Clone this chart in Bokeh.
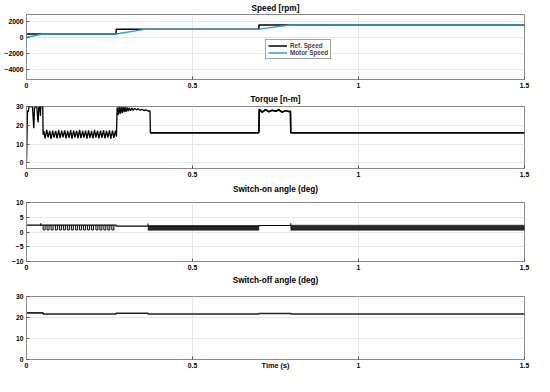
import json
from bokeh.plotting import figure
from bokeh.layouts import column
from bokeh.models import (FixedTicker, Range1d, NumeralTickFormatter, LinearAxis,
                          CustomJSTickFormatter)
from bokeh.embed import file_html
from bokeh.resources import INLINE

FONT = "Liberation Sans"

# ---------------- data ----------------
x_ticks = [0, 0.5, 1, 1.5]
title_pos = [0.75]

# Speed [rpm]
spd_ref_t = [0, 0.27, 0.27, 0.70, 0.70, 1.5]
spd_ref_v = [400, 400, 1000, 1000, 1500, 1500]
spd_mot_t = [0, 0.05, 0.27, 0.36, 0.70, 0.795, 1.5]
spd_mot_v = [0, 400, 400, 1000, 1000, 1500, 1500]
spd_yticks = [-4000, -2000, 0, 2000]

# Torque [n-m]
tq_start_t = [0, 0.003, 0.005, 0.008, 0.012, 0.018, 0.020, 0.022, 0.024, 0.028, 0.031,
              0.034, 0.035, 0.037, 0.040, 0.042, 0.043, 0.046, 0.049, 0.050]
tq_start_v = [0, 28, 27, 30, 30, 30, 24, 18.5, 29, 30, 30, 23, 21.5, 29.5, 30, 25, 30, 30, 30, 15]
tq_rip1_t = [0.052, 0.056, 0.061, 0.065, 0.070, 0.074, 0.079, 0.083, 0.088, 0.092,
             0.097, 0.101, 0.106, 0.110, 0.115, 0.119, 0.124, 0.128, 0.133, 0.137,
             0.142, 0.146, 0.151, 0.155, 0.160, 0.164, 0.169, 0.173, 0.178, 0.182,
             0.187, 0.191, 0.196, 0.200, 0.205, 0.209, 0.214, 0.218, 0.223, 0.227,
             0.232, 0.236, 0.241, 0.245, 0.250, 0.254, 0.259, 0.263, 0.268, 0.271]
tq_rip1_v = [17, 13, 17.5, 13.5, 17, 12.8, 17.2, 13.4, 17, 13, 17.5, 13.2, 17.1, 13.6,
             17.3, 13, 17, 13.3, 17.4, 12.9, 17.1, 13.5, 17, 13.1, 17.6, 13.2, 17, 13.4,
             17.2, 12.9, 17.3, 13.3, 17, 13.1, 17.5, 13.4, 17.1, 13, 17.2, 13.3, 17.4,
             13.1, 17, 13.5, 17.3, 12.9, 17.1, 13.3, 17.2, 14]
tq_rip2_t = [0.273, 0.276, 0.279, 0.282, 0.285, 0.288, 0.291, 0.294, 0.297, 0.300,
             0.303, 0.306, 0.309, 0.313, 0.317, 0.321, 0.326, 0.331, 0.336, 0.342,
             0.348, 0.354, 0.360, 0.366, 0.372]
tq_rip2_v = [29.5, 25.5, 30, 26, 29.8, 26.5, 29.8, 27, 29.6, 27.2, 29.5, 27.5, 29.3,
             27.8, 29.2, 28, 29, 28.2, 28.8, 28, 28.5, 27.8, 28.2, 27.6, 27.6]
tq_rest_t = [0.373, 0.70, 0.701, 0.71, 0.72, 0.73, 0.74, 0.75, 0.76, 0.77, 0.78,
             0.79, 0.795, 0.796, 1.5]
tq_rest_v = [16, 16, 28.5, 27, 28.3, 27.2, 28, 27.5, 28.2, 27, 27.8, 27.3, 27.5, 16, 16]
tq_yticks = [0, 10, 20, 30]

# Switch-on angle (deg)
son_t = [0, 0.27, 0.27, 0.70, 0.70, 0.795]
son_v = [2.3, 2.3, 2.0, 2.0, 2.2, 2.2]
son_spike_t = [0.043, 0.366, 0.796]
son_spike_v = [3.0, 2.9, 3.0]
son_comb_t = [0.050, 0.062, 0.074, 0.087, 0.099, 0.111, 0.123, 0.135, 0.148,
              0.160, 0.172, 0.184, 0.196, 0.209, 0.221, 0.233, 0.245, 0.257]
son_comb_lo = 0.7
son_band_t0 = [0.366, 0.796]
son_band_t1 = [0.70, 1.5]
son_band_lo = [0.6, 0.6]
son_band_hi = [2.1, 2.3]
son_yticks = [-10, -5, 0, 5, 10]

# Switch-off angle (deg)
soff_t = [0, 0.05, 0.05, 0.27, 0.27, 0.366, 0.366, 0.70, 0.70, 0.796, 0.796, 1.5]
soff_v = [22.2, 22.2, 21.7, 21.7, 22.0, 22.0, 21.7, 21.7, 21.9, 21.9, 21.7, 21.7]
soff_yticks = [0, 10, 20, 30]


# ---------------- helpers ----------------
def panel(title, yr, yticks, h, l, r, t, b, standoff):
    p = figure(width=534, height=h, x_range=Range1d(0, 1.5), y_range=Range1d(*yr),
               output_backend="svg", toolbar_location=None,
               min_border_left=l, min_border_right=r, min_border_top=t, min_border_bottom=b)
    p.background_fill_color = "white"
    p.border_fill_color = "white"
    p.outline_line_color = "#8a8a8a"
    for ax in (p.xaxis[0], p.yaxis[0]):
        ax.major_label_text_font = FONT
        ax.major_label_text_font_size = "6.8px"
        ax.major_label_text_font_style = "bold"
        ax.major_label_text_color = "black"
        ax.major_tick_in = 3
        ax.major_tick_out = 0
        ax.minor_tick_line_color = None
        ax.major_tick_line_color = "#555555"
        ax.axis_line_color = "#8a8a8a"
        ax.major_label_standoff = 3
    p.xaxis.ticker = FixedTicker(ticks=x_ticks)
    p.xaxis.formatter = NumeralTickFormatter(format="0.[0]")
    p.yaxis.ticker = FixedTicker(ticks=yticks)
    p.xgrid.ticker = FixedTicker(ticks=x_ticks)
    p.ygrid.ticker = FixedTicker(ticks=yticks)
    p.xgrid.grid_line_color = "#e6e6e6"
    p.ygrid.grid_line_color = "#e6e6e6"
    # panel title, centred over the frame
    tax = LinearAxis(ticker=FixedTicker(ticks=title_pos),
                     formatter=CustomJSTickFormatter(code="return %s;" % json.dumps(title)),
                     major_label_standoff=standoff, major_tick_in=0, major_tick_out=0,
                     major_tick_line_color=None, minor_tick_line_color=None,
                     axis_line_color=None, major_label_text_font=FONT,
                     major_label_text_font_size="8.2px", major_label_text_font_style="bold",
                     major_label_text_color="black")
    p.add_layout(tax, "above")
    return p


# ---------------- Speed ----------------
p1 = panel("Speed [rpm]", (-5200, 2800), spd_yticks, 91, 26, 9, 14, 12, 2)
p1.line(spd_ref_t, spd_ref_v, color="black", line_width=1.5, legend_label="Ref. Speed")
p1.line(spd_mot_t, spd_mot_v, color="#2f9fe0", line_width=1.5, legend_label="Motor Speed")
lg = p1.legend[0]
lg.location = (239, 20)
lg.label_text_font = FONT
lg.label_text_font_size = "6.3px"
lg.label_text_font_style = "bold"
lg.label_height = 7
lg.glyph_height = 7
lg.glyph_width = 19
lg.label_standoff = 3
lg.spacing = 0
lg.padding = 2
lg.margin = 0
lg.border_line_color = "#444444"
lg.border_line_width = 0.8
lg.background_fill_alpha = 1

# ---------------- Torque ----------------
p2 = panel("Torque [n-m]", (-3, 30), tq_yticks, 90, 21, 10, 13, 13, 3)
tq_t = tq_start_t + tq_rip1_t + tq_rip2_t + tq_rest_t
tq_v = tq_start_v + tq_rip1_v + tq_rip2_v + tq_rest_v
p2.line(tq_t, tq_v, color="black", line_width=1.3)
p2.line(tq_rest_t, tq_rest_v, color="black", line_width=1.6)

# ---------------- Switch-on ----------------
p3 = panel("Switch-on angle (deg)", (-10, 10), son_yticks, 91, 17, 10, 19, 11, 9)
p3.line(son_t, son_v, color="black", line_width=1.2)
p3.segment(x0=son_spike_t, y0=[2.0] * len(son_spike_t), x1=son_spike_t, y1=son_spike_v,
           color="black", line_width=1)
comb_x, comb_y = [], []
for tt in son_comb_t:
    comb_x += [tt, tt, tt + 0.006, tt + 0.006, float("nan")]
    comb_y += [2.3, son_comb_lo, son_comb_lo, 2.3, float("nan")]
p3.line(comb_x, comb_y, color="black", line_width=1)
p3.quad(left=son_band_t0, right=son_band_t1, bottom=son_band_lo, top=son_band_hi,
        fill_color="#111111", fill_alpha=0.9, line_color="black", line_width=0.5)

# ---------------- Switch-off ----------------
p4 = panel("Switch-off angle (deg)", (0, 30), soff_yticks, 104, 16, 10, 22, 17, 12)
p4.line(soff_t, soff_v, color="#222222", line_width=1.6)
time_axis = p4.below[0]
time_axis.axis_label = "Time (s)"
time_axis.axis_label_text_font = FONT
time_axis.axis_label_text_font_size = "7.3px"
time_axis.axis_label_text_font_style = "bold"
time_axis.axis_label_text_color = "black"
time_axis.axis_label_standoff = -10

layout = column(p1, p2, p3, p4, spacing=0)
open("out.html", "w").write(file_html(layout, INLINE))
